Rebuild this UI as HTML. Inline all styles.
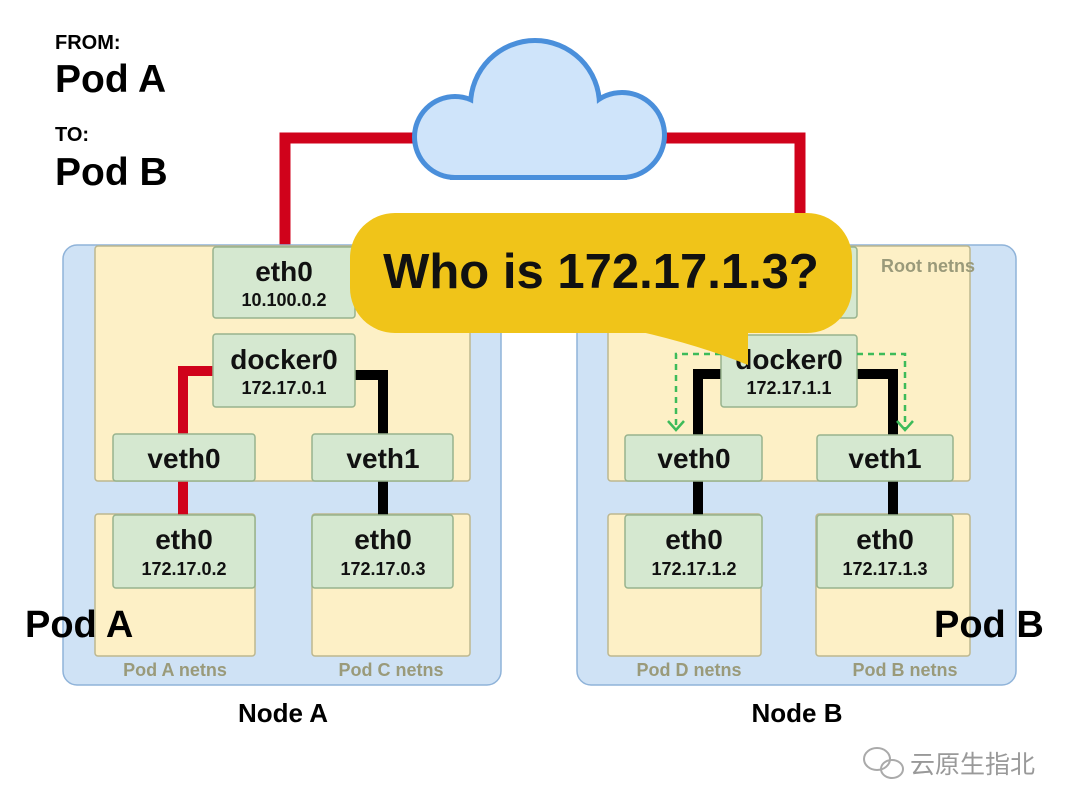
<!DOCTYPE html>
<html><head><meta charset="utf-8"><style>
html,body{margin:0;padding:0;background:#fff;}
svg{display:block;font-family:"Liberation Sans","Noto Sans CJK SC",sans-serif;}
</style></head><body>
<svg width="1080" height="810" viewBox="0 0 1080 810">
<g font-weight="bold" fill="#000">
<text x="55" y="49" font-size="20">FROM:</text>
<text x="55" y="92" font-size="39">Pod A</text>
<text x="55" y="141" font-size="20">TO:</text>
<text x="55" y="185" font-size="39">Pod B</text>
</g>
<polyline points="450,138 285,138 285,250" fill="none" stroke="#d0021b" stroke-width="11"/>
<polyline points="630,138 800,138 800,220" fill="none" stroke="#d0021b" stroke-width="11"/>
<g stroke="#4a8fdb" stroke-width="10" fill="#cfe4fa">
<circle cx="455" cy="137" r="38"/><circle cx="535" cy="105" r="62"/><circle cx="622" cy="135" r="40"/>
<rect x="455" y="110" width="167" height="65"/>
</g>
<g fill="#cfe4fa">
<circle cx="455" cy="137" r="38"/><circle cx="535" cy="105" r="62"/><circle cx="622" cy="135" r="40"/>
<rect x="455" y="110" width="167" height="65"/>
</g>
<rect x="63" y="245" width="438" height="440" rx="14" fill="#cfe2f5" stroke="#8fb3d9" stroke-width="1.5"/>
<rect x="577" y="245" width="439" height="440" rx="14" fill="#cfe2f5" stroke="#8fb3d9" stroke-width="1.5"/>
<g fill="#fdf0c6" stroke="#bdb78f" stroke-width="1.5">
<rect x="95" y="246" width="375" height="235" rx="3"/>
<rect x="608" y="246" width="362" height="235" rx="3"/>
<rect x="95" y="514" width="160" height="142" rx="3"/>
<rect x="312" y="514" width="158" height="142" rx="3"/>
<rect x="608" y="514" width="153" height="142" rx="3"/>
<rect x="816" y="514" width="154" height="142" rx="3"/>
</g>
<polyline points="215,371 183,371 183,436" fill="none" stroke="#d0021b" stroke-width="10"/>
<line x1="183" y1="480" x2="183" y2="516" stroke="#d0021b" stroke-width="10"/>
<polyline points="353,375 383,375 383,436" fill="none" stroke="#000" stroke-width="10"/>
<line x1="383" y1="480" x2="383" y2="516" stroke="#000" stroke-width="10"/>
<polyline points="723,374 698,374 698,436" fill="none" stroke="#000" stroke-width="10"/>
<line x1="698" y1="480" x2="698" y2="516" stroke="#000" stroke-width="10"/>
<polyline points="855,374 893,374 893,436" fill="none" stroke="#000" stroke-width="10"/>
<line x1="893" y1="480" x2="893" y2="516" stroke="#000" stroke-width="10"/>
<g fill="#d5e8d0" stroke="#98b38d" stroke-width="1.5">
<rect x="213" y="247" width="142" height="71" rx="3"/>
<rect x="213" y="334" width="142" height="73" rx="3"/>
<rect x="113" y="434" width="142" height="47" rx="3"/>
<rect x="312" y="434" width="141" height="47" rx="3"/>
<rect x="113" y="515" width="142" height="73" rx="3"/>
<rect x="312" y="515" width="141" height="73" rx="3"/>
<rect x="720" y="247" width="137" height="71" rx="3"/>
<rect x="721" y="335" width="136" height="72" rx="3"/>
<rect x="625" y="435" width="137" height="46" rx="3"/>
<rect x="817" y="435" width="136" height="46" rx="3"/>
<rect x="625" y="515" width="137" height="73" rx="3"/>
<rect x="817" y="515" width="136" height="73" rx="3"/>
</g>
<g fill="none" stroke="#3dbb5a" stroke-width="2.5">
<polyline points="721,354 676,354 676,430" stroke-dasharray="6,5"/>
<polyline points="857,354 905,354 905,430" stroke-dasharray="6,5"/>
<polyline points="668,421 676,430 684,421"/>
<polyline points="897,421 905,430 913,421"/>
</g>
<g font-weight="bold" fill="#111" text-anchor="middle">
<text x="284" y="281" font-size="28">eth0</text><text x="284" y="306" font-size="18">10.100.0.2</text>
<text x="284" y="369" font-size="28">docker0</text><text x="284" y="394" font-size="18">172.17.0.1</text>
<text x="184" y="468" font-size="28">veth0</text>
<text x="383" y="468" font-size="28">veth1</text>
<text x="184" y="549" font-size="28">eth0</text><text x="184" y="575" font-size="18">172.17.0.2</text>
<text x="383" y="549" font-size="28">eth0</text><text x="383" y="575" font-size="18">172.17.0.3</text>
<text x="789" y="369" font-size="28">docker0</text><text x="789" y="394" font-size="18">172.17.1.1</text>
<text x="694" y="468" font-size="28">veth0</text>
<text x="885" y="468" font-size="28">veth1</text>
<text x="694" y="549" font-size="28">eth0</text><text x="694" y="575" font-size="18">172.17.1.2</text>
<text x="885" y="549" font-size="28">eth0</text><text x="885" y="575" font-size="18">172.17.1.3</text>
</g>
<g font-weight="bold" fill="#9a9a7a" font-size="18" text-anchor="middle">
<text x="175" y="676">Pod A netns</text>
<text x="391" y="676">Pod C netns</text>
<text x="689" y="676">Pod D netns</text>
<text x="905" y="676">Pod B netns</text>
<text x="928" y="272">Root netns</text>
</g>
<g font-weight="bold" fill="#000" text-anchor="middle" font-size="26">
<text x="283" y="722">Node A</text>
<text x="797" y="722">Node B</text>
</g>
<g font-weight="bold" fill="#000" font-size="38">
<text x="25" y="637">Pod A</text>
<text x="934" y="637">Pod B</text>
</g>
<path d="M633,330 Q700,345 748,365 L748,330 Z" fill="#f0c419"/>
<rect x="350" y="213" width="502" height="120" rx="45" fill="#f0c419"/>
<text x="601" y="288" font-size="49" font-weight="bold" text-anchor="middle" fill="#111">Who is 172.17.1.3?</text>
<g fill="none" stroke="#aaa" stroke-width="2">
<ellipse cx="877" cy="759" rx="13" ry="11"/>
<ellipse cx="892" cy="769" rx="11" ry="9"/>
</g>
<text x="910" y="773" font-size="25" fill="#999" font-family="'Noto Sans CJK SC',sans-serif">云原生指北</text>
</svg>
</body></html>
